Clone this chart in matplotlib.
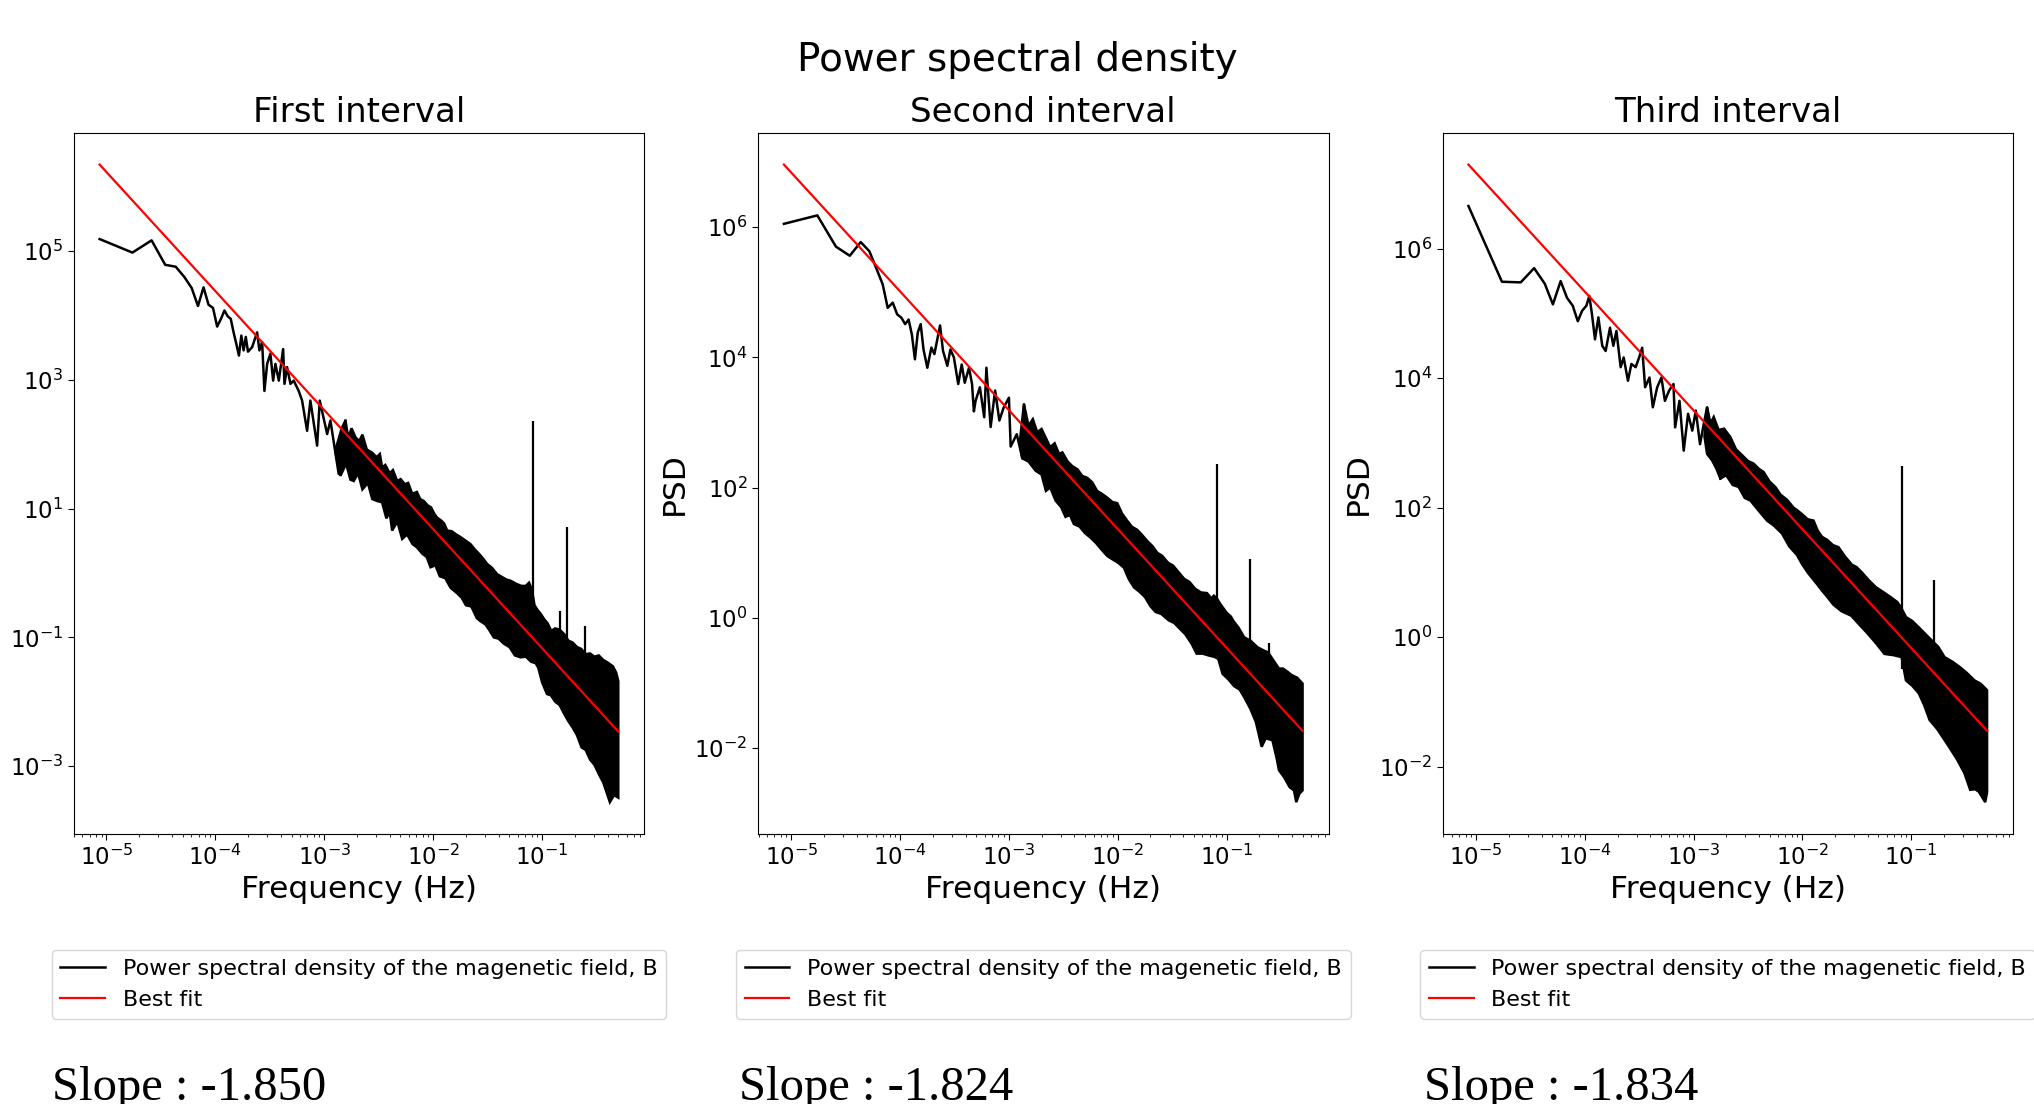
import numpy as np
import matplotlib
matplotlib.use("Agg")
import matplotlib.pyplot as plt

# ---------------- data (log10 values) ----------------
titles = ["First interval", "Second interval", "Third interval"]
slopes = [-1.850, -1.824, -1.834]
fit_log_amp = [-3.019, -2.284, -2.000]      # log10 of best-fit amplitude at 1 Hz
f_end_log = -0.301                           # last frequency (0.5 Hz)

# Panel 1: low-frequency trace (log10 f, log10 PSD)
p1_low_lf = [-5.063, -4.762, -4.586, -4.461, -4.364, -4.285, -4.218, -4.160, -4.109, -4.063,
             -4.022, -3.984, -3.949, -3.917, -3.887, -3.859, -3.833, -3.808, -3.784, -3.762,
             -3.741, -3.721, -3.701, -3.663, -3.617, -3.596, -3.571, -3.550, -3.525, -3.495,
             -3.470, -3.449, -3.418, -3.378, -3.366, -3.342, -3.311, -3.281, -3.235, -3.204,
             -3.158, -3.128, -3.066, -3.042, -2.974, -2.944, -2.868, -2.806]
p1_low_lp = [5.19, 4.98, 5.17, 4.79, 4.76, 4.60, 4.43, 4.15, 4.44, 4.17,
             4.12, 3.83, 3.95, 4.08, 3.99, 3.95, 3.74, 3.56, 3.38, 3.69,
             3.46, 3.67, 3.44, 3.51, 3.74, 3.46, 3.59, 2.83, 3.25, 3.41,
             2.99, 3.25, 2.99, 3.48, 2.94, 3.20, 2.94, 2.99, 2.83, 2.68,
             2.21, 2.68, 1.98, 2.68, 2.16, 2.37, 1.54, 2.37]
# Panel 1: dense band envelopes
p1_up_lf = [-2.900, -2.840, -2.806, -2.780, -2.750, -2.714, -2.680, -2.650, -2.610, -2.561,
            -2.520, -2.490, -2.469, -2.440, -2.400, -2.370, -2.331, -2.300, -2.260, -2.230,
            -2.193, -2.150, -2.120, -2.087, -2.050, -2.020, -1.990, -1.964, -1.930, -1.900,
            -1.872, -1.830, -1.790, -1.750, -1.700, -1.658, -1.620, -1.580, -1.540, -1.504,
            -1.460, -1.412, -1.370, -1.330, -1.290, -1.235, -1.190, -1.150, -1.120, -1.095,
            -1.070, -1.040, -1.015, -0.980, -0.950, -0.916, -0.880, -0.840, -0.797, -0.760,
            -0.720, -0.680, -0.640, -0.603, -0.560, -0.520, -0.480, -0.440, -0.399, -0.350,
            -0.320, -0.301]
p1_up_lp = [1.90, 2.25, 2.37, 2.10, 2.25, 2.11, 2.05, 2.15, 1.92, 1.87,
            1.80, 1.85, 1.64, 1.68, 1.55, 1.60, 1.43, 1.46, 1.38, 1.40,
            1.23, 1.26, 1.15, 1.12, 1.05, 1.02, 0.92, 0.86, 0.82, 0.77,
            0.66, 0.65, 0.60, 0.56, 0.50, 0.45, 0.37, 0.30, 0.22, 0.14,
            0.08, -0.02, -0.06, -0.10, -0.12, -0.17, -0.20, -0.20, -0.15, -0.25,
            -0.50, -0.58, -0.63, -0.72, -0.78, -0.90, -0.86, -0.88, -0.95, -1.05,
            -1.08, -1.15, -1.18, -1.26, -1.25, -1.30, -1.28, -1.35, -1.39, -1.45,
            -1.55, -1.68]
p1_lo_lf = [-2.900, -2.852, -2.800, -2.760, -2.730, -2.690, -2.650, -2.600, -2.560, -2.515,
            -2.470, -2.430, -2.400, -2.377, -2.330, -2.285, -2.240, -2.190, -2.150, -2.100,
            -2.060, -2.025, -1.980, -1.940, -1.890, -1.840, -1.790, -1.740, -1.700, -1.650,
            -1.600, -1.565, -1.520, -1.480, -1.444, -1.400, -1.350, -1.300, -1.250, -1.198,
            -1.150, -1.100, -1.060, -1.036, -1.000, -0.956, -0.920, -0.880, -0.840, -0.797,
            -0.760, -0.720, -0.680, -0.638, -0.600, -0.560, -0.520, -0.478, -0.440, -0.400,
            -0.378, -0.340, -0.301]
p1_lo_lp = [1.90, 1.51, 1.70, 1.45, 1.43, 1.55, 1.30, 1.40, 1.15, 1.12,
            1.10, 0.85, 0.95, 0.66, 0.80, 0.53, 0.60, 0.45, 0.40, 0.30,
            0.25, 0.09, 0.12, -0.05, -0.08, -0.23, -0.30, -0.38, -0.50, -0.52,
            -0.70, -0.75, -0.80, -0.90, -1.00, -1.02, -1.10, -1.15, -1.28, -1.31,
            -1.30, -1.38, -1.40, -1.47, -1.70, -1.88, -1.90, -2.00, -2.05, -2.19,
            -2.30, -2.40, -2.52, -2.71, -2.75, -2.90, -2.98, -3.13, -3.25, -3.45,
            -3.56, -3.45, -3.49]
p1_spike_lf = [-1.084, -0.837, -0.776, -0.605]
p1_spike_top = [2.36, -0.59, 0.71, -0.82]
p1_spike_base = [-1.0, -1.5, -1.5, -2.0]

# Panel 2
p2_low_lf = [-5.068, -4.761, -4.590, -4.463, -4.362, -4.283, -4.222, -4.160, -4.114, -4.068,
             -4.027, -3.989, -3.954, -3.922, -3.892, -3.864, -3.838, -3.811, -3.785, -3.750,
             -3.713, -3.685, -3.633, -3.606, -3.566, -3.538, -3.506, -3.466, -3.434, -3.406,
             -3.367, -3.339, -3.322, -3.307, -3.267, -3.227, -3.207, -3.168, -3.127, -3.088,
             -3.048, -3.000, -2.984, -2.928, -2.877, -2.862, -2.829]
p2_low_lp = [6.05, 6.18, 5.70, 5.56, 5.77, 5.63, 5.38, 5.12, 4.76, 4.84,
             4.66, 4.61, 4.51, 4.58, 4.35, 3.97, 4.38, 4.51, 4.12, 3.84,
             4.15, 4.05, 4.49, 4.10, 3.87, 4.12, 4.00, 3.59, 3.89, 3.61,
             3.84, 3.59, 3.17, 3.33, 3.54, 3.08, 3.84, 2.93, 3.49, 3.03,
             3.23, 3.38, 2.63, 2.82, 2.45, 3.28, 2.77]
p2_up_lf = [-2.900, -2.862, -2.820, -2.780, -2.740, -2.700, -2.663, -2.620, -2.580, -2.540,
            -2.509, -2.460, -2.418, -2.370, -2.326, -2.280, -2.234, -2.190, -2.142, -2.100,
            -2.050, -2.004, -1.960, -1.912, -1.870, -1.820, -1.780, -1.729, -1.680, -1.637,
            -1.590, -1.540, -1.490, -1.440, -1.390, -1.340, -1.290, -1.235, -1.180, -1.140,
            -1.116, -1.090, -1.056, -1.000, -0.960, -0.936, -0.890, -0.837, -0.780, -0.717,
            -0.660, -0.618, -0.570, -0.518, -0.480, -0.438, -0.400, -0.350, -0.301]
p2_up_lp = [2.70, 3.28, 2.95, 3.05, 2.85, 2.90, 2.77, 2.62, 2.68, 2.52,
            2.54, 2.40, 2.33, 2.28, 2.18, 2.15, 2.08, 1.95, 1.90, 1.85,
            1.78, 1.76, 1.60, 1.49, 1.40, 1.35, 1.28, 1.18, 1.10, 1.00,
            0.95, 0.85, 0.80, 0.70, 0.60, 0.55, 0.45, 0.39, 0.38, 0.30,
            0.34, 0.30, 0.21, 0.08, 0.02, -0.05, -0.15, -0.30, -0.35, -0.45,
            -0.50, -0.53, -0.65, -0.78, -0.78, -0.83, -0.88, -0.92, -1.01]
p2_lo_lf = [-2.900, -2.877, -2.820, -2.755, -2.700, -2.660, -2.620, -2.571, -2.520, -2.480,
            -2.440, -2.403, -2.350, -2.300, -2.249, -2.200, -2.150, -2.096, -2.050, -2.000,
            -1.943, -1.900, -1.852, -1.800, -1.750, -1.700, -1.652, -1.600, -1.530, -1.480,
            -1.434, -1.380, -1.320, -1.275, -1.220, -1.160, -1.110, -1.076, -1.036, -0.980,
            -0.930, -0.880, -0.837, -0.780, -0.730, -0.677, -0.640, -0.578, -0.540, -0.518,
            -0.470, -0.420, -0.380, -0.359, -0.330, -0.301]
p2_lo_lp = [2.70, 2.45, 2.40, 2.26, 2.20, 1.95, 2.00, 1.80, 1.70, 1.55,
            1.58, 1.44, 1.40, 1.30, 1.23, 1.15, 1.05, 0.95, 0.90, 0.85,
            0.77, 0.60, 0.47, 0.40, 0.32, 0.18, 0.09, 0.06, -0.04, -0.08,
            -0.16, -0.25, -0.40, -0.55, -0.55, -0.58, -0.60, -0.63, -0.86, -0.95,
            -1.05, -1.10, -1.22, -1.40, -1.60, -1.98, -1.85, -1.88, -2.15, -2.34,
            -2.45, -2.60, -2.65, -2.83, -2.70, -2.65]
p2_spike_lf = [-1.084, -0.785, -0.610]
p2_spike_top = [2.36, 0.90, -0.39]
p2_spike_base = [-0.6, -1.2, -1.5]

# Panel 3
p3_low_lf = [-5.071, -4.763, -4.590, -4.467, -4.369, -4.294, -4.223, -4.164, -4.112, -4.065,
             -4.026, -3.986, -3.959, -3.935, -3.907, -3.876, -3.840, -3.809, -3.769, -3.738,
             -3.710, -3.671, -3.643, -3.604, -3.572, -3.533, -3.501, -3.473, -3.446, -3.406,
             -3.375, -3.335, -3.296, -3.264, -3.225, -3.185, -3.170, -3.130, -3.091, -3.051,
             -3.012, -2.980, -2.941, -2.901, -2.876, -2.822, -2.783, -2.754]
p3_low_lp = [6.66, 5.49, 5.48, 5.70, 5.46, 5.14, 5.50, 5.24, 5.12, 4.88,
             5.04, 5.12, 5.27, 4.99, 4.60, 4.94, 4.50, 4.42, 4.78, 4.50,
             4.73, 4.17, 4.32, 3.96, 4.22, 4.17, 4.32, 4.47, 3.86, 4.01,
             3.55, 3.86, 4.01, 3.65, 3.81, 3.91, 3.24, 3.65, 2.88, 3.45,
             3.19, 3.50, 2.98, 3.34, 3.55, 2.88, 3.19, 2.45]
p3_up_lf = [-2.900, -2.876, -2.845, -2.815, -2.770, -2.720, -2.662, -2.610, -2.554, -2.500,
            -2.448, -2.400, -2.356, -2.300, -2.249, -2.200, -2.140, -2.081, -2.040, -2.004,
            -1.950, -1.897, -1.860, -1.820, -1.770, -1.718, -1.668, -1.610, -1.545, -1.500,
            -1.453, -1.390, -1.323, -1.260, -1.190, -1.126, -1.090, -1.047, -0.990, -0.929,
            -0.870, -0.811, -0.750, -0.692, -0.620, -0.554, -0.490, -0.416, -0.360, -0.301]
p3_up_lp = [3.10, 3.55, 3.30, 3.40, 3.20, 3.22, 3.09, 2.90, 2.81, 2.72,
            2.68, 2.60, 2.55, 2.40, 2.32, 2.20, 2.12, 2.00, 1.95, 1.90,
            1.82, 1.80, 1.65, 1.55, 1.50, 1.42, 1.39, 1.25, 1.12, 1.08,
            1.00, 0.88, 0.77, 0.70, 0.62, 0.54, 0.45, 0.31, 0.25, 0.15,
            0.05, -0.05, -0.15, -0.31, -0.38, -0.46, -0.55, -0.67, -0.72, -0.82]
p3_lo_lf = [-2.900, -2.876, -2.830, -2.790, -2.754, -2.700, -2.640, -2.586, -2.530, -2.478,
            -2.400, -2.325, -2.260, -2.187, -2.120, -2.050, -2.000, -1.943, -1.880, -1.820,
            -1.770, -1.714, -1.640, -1.550, -1.480, -1.402, -1.320, -1.245, -1.160, -1.087,
            -1.047, -0.990, -0.929, -0.880, -0.830, -0.760, -0.692, -0.630, -0.574, -0.510,
            -0.456, -0.410, -0.377, -0.318, -0.301]
p3_lo_lp = [3.10, 2.83, 2.73, 2.60, 2.45, 2.50, 2.35, 2.32, 2.15, 2.11,
            1.95, 1.80, 1.72, 1.60, 1.40, 1.27, 1.12, 0.98, 0.85, 0.72,
            0.62, 0.50, 0.40, 0.33, 0.20, 0.06, -0.10, -0.26, -0.28, -0.31,
            -0.67, -0.75, -0.87, -1.05, -1.28, -1.42, -1.59, -1.75, -1.90, -2.10,
            -2.36, -2.35, -2.39, -2.55, -2.40]
p3_spike_lf = [-1.084, -0.785]
p3_spike_top = [2.65, 0.88]
p3_spike_base = [-0.5, -0.8]

panels = [
    (p1_low_lf, p1_low_lp, p1_up_lf, p1_up_lp, p1_lo_lf, p1_lo_lp, p1_spike_lf, p1_spike_top, p1_spike_base),
    (p2_low_lf, p2_low_lp, p2_up_lf, p2_up_lp, p2_lo_lf, p2_lo_lp, p2_spike_lf, p2_spike_top, p2_spike_base),
    (p3_low_lf, p3_low_lp, p3_up_lf, p3_up_lp, p3_lo_lf, p3_lo_lp, p3_spike_lf, p3_spike_top, p3_spike_base),
]

# ---------------- figure ----------------
W, H = 2034, 1104
fig = plt.figure(figsize=(W / 100, H / 100), dpi=100)
fig.suptitle("Power spectral density", fontsize=28, y=1 - 71 / H, va="baseline")

ax_lefts = [73.7, 758.0, 1442.5]
ax_w, ax_top, ax_bot = 570.5, 132.7, 834.0
slope_x = [52, 739, 1424]

for i, (llf, llp, ulf, ulp, dlf, dlp, slf, stop, sbase) in enumerate(panels):
    ax = fig.add_axes([ax_lefts[i] / W, 1 - ax_bot / H, ax_w / W, (ax_bot - ax_top) / H])
    ax.set_xscale("log")
    ax.set_yscale("log")

    f_low = 10 ** np.array(llf)
    ax.plot(f_low, 10 ** np.array(llp), color="black", lw=1.8,
            label="Power spectral density of the magenetic field, B")
    poly_f = np.concatenate([10 ** np.array(ulf), 10 ** np.array(dlf)[::-1]])
    poly_p = np.concatenate([10 ** np.array(ulp), 10 ** np.array(dlp)[::-1]])
    ax.fill(poly_f, poly_p, facecolor="black", edgecolor="black", lw=1.8, joinstyle="miter")
    ax.vlines(10 ** np.array(slf), 10 ** np.array(sbase), 10 ** np.array(stop),
              color="black", lw=1.6)

    f_fit = np.array([f_low[0], 10 ** f_end_log])
    psd_fit = 10 ** fit_log_amp[i] * f_fit ** slopes[i]
    ax.plot(f_fit, psd_fit, color="red", lw=1.6, label="Best fit", zorder=5)

    ax.set_title(titles[i], fontsize=24.5, pad=8)
    ax.set_xlabel("Frequency (Hz)", fontsize=22.5)
    if i > 0:
        ax.set_ylabel("PSD", fontsize=22.5)
    ax.tick_params(axis="both", which="major", labelsize=16.5, length=4)
    ax.legend(loc="upper center", bbox_to_anchor=(0.5, -0.1654), borderaxespad=0,
              fontsize=16)

    fig.text(slope_x[i] / W, 4 / H, f"Slope : {slopes[i]:.3f}", family="Liberation Serif",
             fontsize=35, va="baseline", ha="left")

fig.savefig("out.png", dpi=100)
